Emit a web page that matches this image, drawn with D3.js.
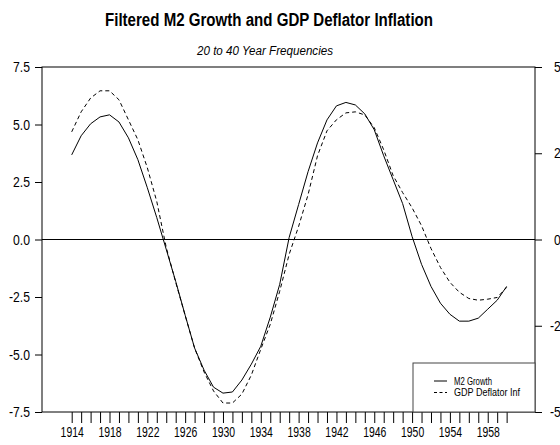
<!DOCTYPE html>
<html>
<head>
<meta charset="utf-8">
<script src="https://cdn.jsdelivr.net/npm/d3@7"></script>
<style>
body { margin: 0; background: #fff; }
text { font-family: "Liberation Sans", Arial, sans-serif; fill: #000; }
.tick line { stroke: #000; }
</style>
</head>
<body>
<div class="svg-container"></div>
<script>
var width = 560;
var height = 445;

var frame = { "left": 42, "right": 535, "top": 67, "bottom": 412 };

// data
var years = [1914, 1915, 1916, 1917, 1918, 1919, 1920, 1921, 1922, 1923,
             1924, 1925, 1926, 1927, 1928, 1929, 1930, 1931, 1932, 1933,
             1934, 1935, 1936, 1937, 1938, 1939, 1940, 1941, 1942, 1943,
             1944, 1945, 1946, 1947, 1948, 1949, 1950, 1951, 1952, 1953,
             1954, 1955, 1956, 1957, 1958, 1959, 1960];

var m2Growth = [3.68, 4.51, 5.03, 5.33, 5.42, 5.11, 4.42, 3.47, 2.25, 0.95,
                -0.43, -1.82, -3.29, -4.72, -5.68, -6.42, -6.68, -6.63, -6.11, -5.42,
                -4.64, -3.38, -1.95, 0.09, 1.52, 2.95, 4.20, 5.20, 5.81, 5.96,
                5.85, 5.46, 4.77, 3.64, 2.60, 1.56, 0.13, -1.08, -2.04, -2.77,
                -3.25, -3.55, -3.55, -3.42, -3.03, -2.64, -2.04];

// plotted against the right axis
var gdpDeflatorInf = [3.12, 3.70, 4.10, 4.31, 4.31, 4.05, 3.47, 2.89, 2.08, 1.10,
                      -0.23, -1.24, -2.20, -3.15, -3.84, -4.39, -4.74, -4.74, -4.48, -3.93,
                      -3.18, -2.46, -1.50, -0.43, 0.38, 1.30, 2.43, 3.15, 3.47, 3.67,
                      3.70, 3.61, 3.24, 2.60, 1.85, 1.36, 0.92, 0.40, -0.26, -0.81,
                      -1.24, -1.53, -1.71, -1.76, -1.73, -1.68, -1.39];

var leftTicks = [-7.5, -5.0, -2.5, 0.0, 2.5, 5.0, 7.5];
var leftTickLabels = ["-7.5", "-5.0", "-2.5", "0.0", "2.5", "5.0", "7.5"];
var rightTicks = [-5.0, -2.5, 0.0, 2.5, 5.0];
var rightTickLabels = ["-5.0", "-2.5", "0.0", "2.5", "5.0"];
var labelYears = [1914, 1918, 1922, 1926, 1930, 1934, 1938, 1942, 1946, 1950, 1954, 1958];

var seriesNames = ["M2 Growth", "GDP Deflator Inf"];

var svg = d3.select(".svg-container").append("svg")
            .attr("width", width)
            .attr("height", height);

var scaleX = d3.scaleLinear()
               .domain([1910.86, 1963])
               .range([frame.left, frame.right]);

var scaleYLeft = d3.scaleLinear()
                   .domain([-7.5, 7.5])
                   .range([frame.bottom, frame.top]);

var scaleYRight = d3.scaleLinear()
                    .domain([-5, 5])
                    .range([frame.bottom, frame.top]);

// the original font is a squeezed Arial, so fit each label to its width
function squeeze(str, digit) {
  var w = 0;
  String(str).split("").forEach(function(c) {
    if (c == ".") w += 3;
    else if (c == "-") w += 4;
    else w += digit;
  });
  return w;
}

// titles
svg.append("text")
   .attr("x", 269)
   .attr("y", 26)
   .attr("text-anchor", "middle")
   .attr("font-size", 17.5)
   .attr("font-weight", "bold")
   .attr("textLength", 328)
   .attr("lengthAdjust", "spacingAndGlyphs")
   .text("Filtered M2 Growth and GDP Deflator Inflation");

svg.append("text")
   .attr("x", 265)
   .attr("y", 55)
   .attr("text-anchor", "middle")
   .attr("font-size", 12.5)
   .attr("font-style", "italic")
   .attr("textLength", 136)
   .attr("lengthAdjust", "spacingAndGlyphs")
   .text("20 to 40 Year Frequencies");

// axes
var leftAxis = svg.append("g")
                  .attr("transform", "translate(" + frame.left + ",0)")
                  .call(d3.axisLeft(scaleYLeft)
                          .tickValues(leftTicks)
                          .tickSize(7)
                          .tickPadding(5)
                          .tickFormat(function(d, i) { return leftTickLabels[i]; }));

var rightAxis = svg.append("g")
                   .attr("transform", "translate(" + frame.right + ",0)")
                   .call(d3.axisRight(scaleYRight)
                           .tickValues(rightTicks)
                           .tickSize(7)
                           .tickPadding(29)
                           .tickFormat(function(d, i) { return rightTickLabels[i]; }));
rightAxis.selectAll("text").attr("text-anchor", "end");

var bottomAxis = svg.append("g")
                    .attr("transform", "translate(0," + frame.bottom + ")")
                    .call(d3.axisBottom(scaleX)
                            .tickValues(years)
                            .tickSize(11)
                            .tickPadding(3)
                            .tickFormat(function(d) { return labelYears.indexOf(d) >= 0 ? d : ""; }));

[leftAxis, rightAxis].forEach(function(g) {
  g.select(".domain").remove();
  g.selectAll(".tick text")
   .attr("font-family", "Liberation Sans, Arial, sans-serif")
   .attr("font-size", 14.5)
   .attr("fill", "#000")
   .attr("lengthAdjust", "spacingAndGlyphs")
   .attr("textLength", function() { return squeeze(this.textContent, 7); });
});

bottomAxis.select(".domain").remove();
bottomAxis.selectAll(".tick text")
   .attr("font-family", "Liberation Sans, Arial, sans-serif")
   .attr("font-size", 15)
   .attr("fill", "#000")
   .attr("lengthAdjust", "spacingAndGlyphs")
   .attr("textLength", function() { return this.textContent ? squeeze(this.textContent, 5.8) : null; });

// frame and zero line
svg.append("rect")
   .attr("x", frame.left)
   .attr("y", frame.top)
   .attr("width", frame.right - frame.left)
   .attr("height", frame.bottom - frame.top)
   .attr("fill", "none")
   .attr("stroke", "#000")
   .attr("stroke-width", 1);

svg.append("line")
   .attr("x1", frame.left)
   .attr("x2", frame.right)
   .attr("y1", scaleYLeft(0))
   .attr("y2", scaleYLeft(0))
   .attr("stroke", "#000")
   .attr("stroke-width", 1);

// series lines
var m2Line = d3.line()
               .x(function(d, i) { return scaleX(years[i]); })
               .y(function(d) { return scaleYLeft(d); });

var gdpLine = d3.line()
                .x(function(d, i) { return scaleX(years[i]); })
                .y(function(d) { return scaleYRight(d); });

svg.append("path")
   .datum(m2Growth)
   .attr("fill", "none")
   .attr("stroke", "#000")
   .attr("stroke-width", 1)
   .attr("d", m2Line);

svg.append("path")
   .datum(gdpDeflatorInf)
   .attr("fill", "none")
   .attr("stroke", "#000")
   .attr("stroke-width", 1)
   .attr("stroke-dasharray", "4,3")
   .attr("d", gdpLine);

// legend
var legend = svg.append("g")
                .attr("class", "legend");

legend.append("rect")
      .attr("x", 413)
      .attr("y", 363)
      .attr("width", frame.right - 413)
      .attr("height", frame.bottom - 363)
      .attr("fill", "#fff")
      .attr("stroke", "#444")
      .attr("stroke-width", 1);

var legendWidths = [38, 66];

seriesNames.forEach(function(name, i) {
  var ly = 381 + i * 11.5;
  legend.append("line")
        .attr("x1", 434)
        .attr("x2", 447)
        .attr("y1", ly)
        .attr("y2", ly)
        .attr("stroke", "#000")
        .attr("stroke-width", 1)
        .attr("stroke-dasharray", i == 1 ? "3,2.5" : null);
  legend.append("text")
        .attr("x", 454)
        .attr("y", ly + 3.5)
        .attr("font-size", 10)
        .attr("textLength", legendWidths[i])
        .attr("lengthAdjust", "spacingAndGlyphs")
        .text(name);
});
</script>
</body>
</html>
